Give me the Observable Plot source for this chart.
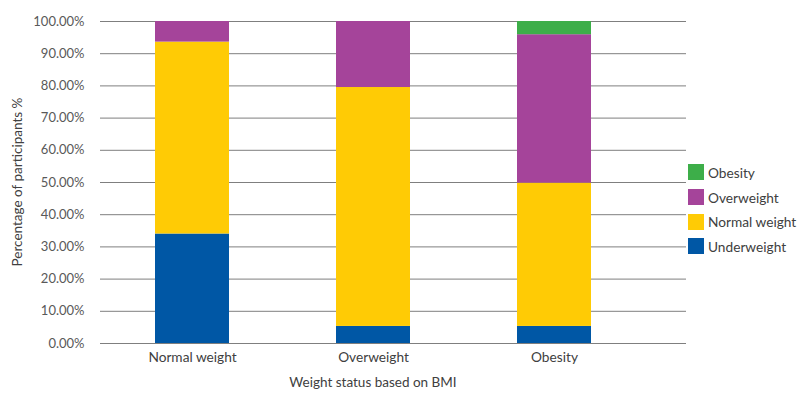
<!DOCTYPE html>
<html>
<head>
<meta charset="utf-8">
<script src="https://cdn.jsdelivr.net/npm/d3@7"></script>
<script src="https://cdn.jsdelivr.net/npm/@observablehq/plot@0.6"></script>
<style>
  html, body { margin: 0; padding: 0; background: #fff; }
  body { font-family: Lato, "Open Sans", sans-serif; color: #404040; }
  #wrap { position: relative; width: 807px; height: 401px; }
  #wrap svg { position: absolute; left: 0; top: 0; }
  .ytitle { position: absolute; left: 17px; top: 182px; transform: translate(-50%, -50%) rotate(-90deg); font-size: 13.5px; white-space: nowrap; color: #404040; }
  .xtitle { position: absolute; left: 373px; top: 382px; transform: translate(-50%, -50%); font-size: 13.5px; white-space: nowrap; color: #404040; }
  .legend { position: absolute; left: 688px; top: 160px; font-size: 13.7px; color: #404040; }
  .legend .item { display: flex; align-items: center; height: 24.7px; }
  .legend .sw { width: 16px; height: 16px; margin-right: 4px; }
</style>
</head>
<body>
<div id="wrap"></div>
<script>
const categories = ["Normal weight", "Overweight", "Obesity"];
const series = ["Underweight", "Normal weight", "Overweight", "Obesity"];
const underweight = [34, 5.3, 5.3];
const normalWeight = [59.6, 74.2, 44.5];
const overweight = [6.4, 20.5, 46.1];
const obesity = [0, 0, 4.1];
const colors = ["#0057a5", "#ffcb05", "#a5449a", "#3dae49"];
const yTicks = [0, 10, 20, 30, 40, 50, 60, 70, 80, 90, 100];

const valuesBySeries = [underweight, normalWeight, overweight, obesity];
const data = [];
series.forEach((s, si) => {
  categories.forEach((c, ci) => {
    data.push({category: c, series: s, value: valuesBySeries[si][ci]});
  });
});

const plot = Plot.plot({
  width: 690,
  height: 401,
  marginLeft: 100,
  marginRight: 4,
  marginTop: 21,
  marginBottom: 58,
  style: {fontFamily: "Lato, 'Open Sans', sans-serif", fontSize: "13px", color: "#595959", background: "transparent"},
  x: {domain: categories, range: [100, 645], paddingInner: 0.593, paddingOuter: 0.2965, label: null},
  y: {domain: [0, 100], label: null},
  color: {domain: series, range: colors},
  marks: [
    Plot.ruleY(yTicks, {stroke: "#7f7f7f", strokeWidth: 1}),
    Plot.barY(data, {x: "category", y: "value", fill: "series", order: series}),
    Plot.axisY({ticks: yTicks, tickSize: 0, tickPadding: 16, tickFormat: d => d.toFixed(2) + "%", label: null, fill: "#595959", fontSize: 13}),
    Plot.axisX({tickSize: 0, tickPadding: 9, label: null, fill: "#404040", fontSize: 13.7})
  ]
});

const wrap = document.getElementById("wrap");
wrap.appendChild(plot);

const yt = document.createElement("div");
yt.className = "ytitle";
yt.textContent = "Percentage of participants %";
wrap.appendChild(yt);

const xt = document.createElement("div");
xt.className = "xtitle";
xt.textContent = "Weight status based on BMI";
wrap.appendChild(xt);

const lg = document.createElement("div");
lg.className = "legend";
series.slice().reverse().forEach(s => {
  const it = document.createElement("div");
  it.className = "item";
  const sw = document.createElement("div");
  sw.className = "sw";
  sw.style.background = colors[series.indexOf(s)];
  const tx = document.createElement("span");
  tx.textContent = s;
  it.appendChild(sw);
  it.appendChild(tx);
  lg.appendChild(it);
});
wrap.appendChild(lg);
</script>
</body>
</html>
